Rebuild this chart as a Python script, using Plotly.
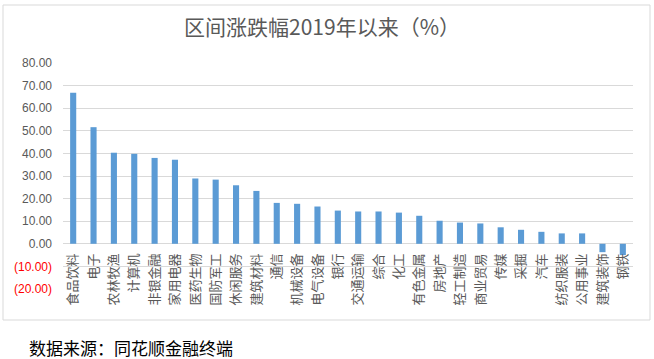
import plotly.graph_objects as go

categories = ["食品饮料", "电子", "农林牧渔", "计算机", "非银金融", "家用电器", "医药生物",
              "国防军工", "休闲服务", "建筑材料", "通信", "机械设备", "电气设备", "银行",
              "交通运输", "综合", "化工", "有色金属", "房地产", "轻工制造", "商业贸易",
              "传媒", "采掘", "汽车", "纺织服装", "公用事业", "建筑装饰", "钢铁"]
values = [66.8, 51.6, 40.3, 39.8, 38.0, 37.2, 28.9, 28.4, 25.9, 23.4, 18.1, 17.7, 16.5,
          14.7, 14.3, 14.3, 13.8, 12.4, 10.2, 9.4, 9.0, 7.3, 6.2, 5.3, 4.6, 4.6, -3.7, -5.0]
y_tickvals = [-20, -10, 0, 10, 20, 30, 40, 50, 60, 70, 80]
y_ticklabels = ["(20.00)", "(10.00)", "0.00", "10.00", "20.00", "30.00", "40.00",
                "50.00", "60.00", "70.00", "80.00"]
title_text = "区间涨跌幅2019年以来（%）"
source_text = "数据来源：同花顺金融终端"

W, H = 654, 359
L, R, T, B = 63, 21, 63, 70
pw, ph = W - L - R, H - T - B

def fx(px):
    return (px - L) / pw

def fy(py):
    return 1 - (py - T) / ph

ticktext = [
    (f"<span style='color:#FF0000'>{t}</span>" if v < 0 else t)
    for v, t in zip(y_tickvals, y_ticklabels)
]

fig = go.Figure()
fig.add_trace(go.Bar(x=categories, y=values, marker=dict(color="#5B9BD5", line=dict(width=0)),
                     hoverinfo="x+y"))

fig.update_layout(
    width=W, height=H,
    margin=dict(l=L, r=R, t=T, b=B),
    paper_bgcolor="white", plot_bgcolor="white",
    bargap=0.7,
    showlegend=False,
    font=dict(family="Noto Sans CJK SC, Liberation Sans, sans-serif", color="#595959"),
    title=dict(text=title_text, x=322 / W, xanchor="center", y=1 - 27.5 / H, yanchor="middle",
               font=dict(size=21, color="#595959", family="Noto Sans CJK SC")),
    xaxis=dict(
        anchor="free", position=0.2,
        tickangle=-90, showgrid=False, showline=False, ticks="",
        tickfont=dict(size=13, color="#595959", family="Noto Sans CJK SC"),
        automargin=False, ticklabelstandoff=6,
    ),
    yaxis=dict(
        range=[-20, 80], tickvals=y_tickvals, ticktext=ticktext,
        showgrid=True, gridcolor="#D9D9D9", gridwidth=1, zeroline=False,
        showline=False, ticks="",
        tickfont=dict(size=12, color="#595959", family="Liberation Sans"),
        automargin=False, ticklabelstandoff=10,
    ),
    shapes=[dict(type="rect", xref="paper", yref="paper",
                 x0=fx(3), x1=fx(650), y0=fy(320), y1=fy(5),
                 line=dict(color="#D9D9D9", width=1), fillcolor="rgba(0,0,0,0)", layer="below")],
    annotations=[dict(text=source_text, xref="paper", yref="paper", x=fx(27), y=fy(347),
                      xanchor="left", yanchor="middle", showarrow=False,
                      font=dict(size=17, color="#000000", family="Noto Sans CJK SC"))],
)

fig.write_html("out.html", config={"displayModeBar": False},
               post_script="document.body.style.margin='0';")
